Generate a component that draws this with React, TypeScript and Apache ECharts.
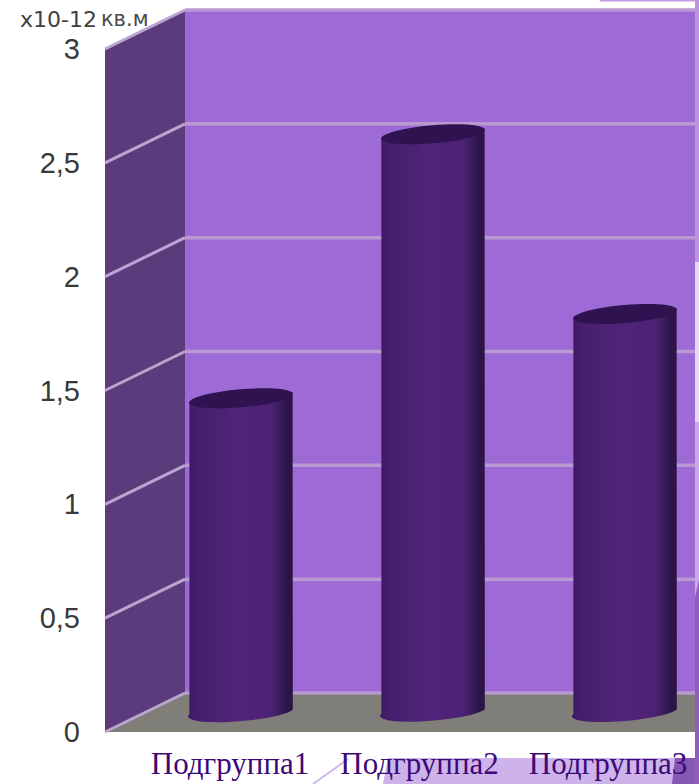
import React, { useEffect, useRef } from "react";
import * as echarts from "echarts";

const categories = ["Подгруппа1", "Подгруппа2", "Подгруппа3"];
const areaValues = [1.38, 2.54, 1.75];
const gridTicks = [0, 0.5, 1, 1.5, 2, 2.5, 3];
const unitNumber = "x10-12";
const unitName = "кв.м";

// Oblique projection of the chart box: the back wall sits this far behind the front plane.
const DEPTH_X = 80;
const DEPTH_Y = -39;
const WALL_RIGHT = 695;
const CYLINDER_RX = 52;
const CYLINDER_RY = 9;
const TILT_DEG = -5;

// Category captions are spaced slightly tighter than the columns.
const CAPTION_SHIFT = [58, 53, 46];

const COLORS = {
  wall: "#9E6AD6",
  side: "#5C3B7C",
  floor: "#7F7E79",
  grid: "#B999D2",
  sideGrid: "#BCA4D0",
  cap: "#2E1350",
  axisText: "#3A3A3A",
  categoryText: "#3C0A78",
};

const App = () => {
  const ref = useRef<HTMLDivElement>(null);

  useEffect(() => {
    document.body.style.margin = "0";
    const chart = echarts.init(ref.current!, null, { renderer: "svg" });

    const bodyFill = new echarts.graphic.LinearGradient(0, 0, 1, 0, [
      { offset: 0, color: "#3A1A5E" },
      { offset: 0.07, color: "#441F6B" },
      { offset: 0.45, color: "#50247A" },
      { offset: 0.8, color: "#4C2274" },
      { offset: 0.95, color: "#2D1548" },
      { offset: 1, color: "#2A1344" },
    ]);

    chart.setOption({
      animation: false,
      backgroundColor: "#FFFFFF",
      grid: { left: 105, right: 18, top: 49, bottom: 52 },
      xAxis: {
        type: "category",
        data: categories.map((name, i) => ({
          value: name,
          textStyle: { padding: [0, 0, 0, CAPTION_SHIFT[i]] },
        })),
        axisLine: { show: false },
        axisTick: { show: false },
        axisLabel: {
          margin: 16,
          fontFamily: "Liberation Serif",
          fontSize: 31,
          color: COLORS.categoryText,
          interval: 0,
        },
      },
      yAxis: {
        type: "value",
        min: 0,
        max: 3,
        interval: 0.5,
        axisLine: { show: false },
        axisTick: { show: false },
        splitLine: { show: false },
        axisLabel: {
          margin: 25,
          fontFamily: "Liberation Sans",
          fontSize: 29,
          color: COLORS.axisText,
          formatter: (v: number) => String(v).replace(".", ","),
        },
      },
      graphic: [
        // Slide artwork showing around the chart
        { type: "rect", z: 0, shape: { x: 600, y: 0, width: 99, height: 1.5 }, style: { fill: "#C79CE8" } },
        { type: "rect", z: 0, shape: { x: 695, y: 0, width: 4, height: 262 }, style: { fill: "#BE94E0" } },
        { type: "rect", z: 0, shape: { x: 695, y: 262, width: 4, height: 160 }, style: { fill: "#E5D6F3" } },
        { type: "rect", z: 0, shape: { x: 695, y: 422, width: 4, height: 175 }, style: { fill: "#C9A9E6" } },
        { type: "polygon", z: 0, shape: { points: [[695, 597], [699, 580], [699, 784], [695, 784]] }, style: { fill: "#8F5CBB" } },
        { type: "polygon", z: 0, shape: { points: [[383, 784], [388, 758], [695, 758], [695, 784]] }, style: { fill: "#CDB3E9" } },
        { type: "polygon", z: 0, shape: { points: [[672, 784], [675, 758], [695, 758], [695, 784]] }, style: { fill: "#8558B4" } },
        { type: "line", z: 0, shape: { x1: 313, y1: 784, x2: 348, y2: 759 }, style: { stroke: "#D0B8EA", lineWidth: 2 } },
        {
          type: "text",
          z: 10,
          x: 20,
          y: 8,
          style: {
            text: `{a|${unitNumber}}{b|${unitName}}`,
            rich: {
              a: { fontFamily: "DejaVu Sans", fontSize: 22, fill: "#3F3F3F", color: "#3F3F3F", padding: [0, 4, 0, 0] },
              b: { fontFamily: "DejaVu Sans", fontSize: 21, fill: "#4A4A4A", color: "#4A4A4A" },
            },
          },
        },
      ],
      series: [
        {
          // Back wall, side wall and floor of the box
          type: "custom",
          silent: true,
          z: 1,
          data: [[0]],
          renderItem: (_p: any, api: any) => {
            const [x0, y0] = api.coord([0, 0]);
            const left = x0 - api.size([1, 0])[0] / 2;
            const [, y3] = api.coord([0, 3]);
            const backLeft = left + DEPTH_X;
            return {
              type: "group",
              children: [
                {
                  type: "polygon",
                  shape: { points: [[backLeft, y3 + DEPTH_Y], [WALL_RIGHT, y3 + DEPTH_Y], [WALL_RIGHT, y0 + DEPTH_Y], [backLeft, y0 + DEPTH_Y]] },
                  style: { fill: COLORS.wall },
                },
                {
                  type: "polygon",
                  shape: { points: [[left, y3], [backLeft, y3 + DEPTH_Y], [backLeft, y0 + DEPTH_Y], [left, y0]] },
                  style: { fill: COLORS.side },
                },
                {
                  type: "polygon",
                  shape: { points: [[left, y0], [backLeft, y0 + DEPTH_Y], [WALL_RIGHT, y0 + DEPTH_Y], [WALL_RIGHT, y0]] },
                  style: { fill: COLORS.floor },
                },
              ],
            };
          },
        },
        {
          // Horizontal gridlines on the back wall, folded onto the side wall
          type: "custom",
          silent: true,
          z: 2,
          data: gridTicks.map((t) => [0, t]),
          encode: { y: 1 },
          renderItem: (_p: any, api: any) => {
            const [x0, y] = api.coord([0, api.value(1)]);
            const left = x0 - api.size([1, 0])[0] / 2;
            const backLeft = left + DEPTH_X;
            const yBack = y + DEPTH_Y;
            return {
              type: "group",
              children: [
                {
                  type: "line",
                  shape: { x1: backLeft, y1: yBack, x2: WALL_RIGHT, y2: yBack },
                  style: { stroke: COLORS.grid, lineWidth: 3.5 },
                },
                {
                  type: "line",
                  shape: { x1: left, y1: y, x2: backLeft, y2: yBack },
                  style: { stroke: COLORS.sideGrid, lineWidth: 3 },
                },
              ],
            };
          },
        },
        {
          // Cylinders standing halfway into the box
          type: "custom",
          silent: true,
          z: 3,
          data: areaValues.map((v, i) => [i, v]),
          encode: { x: 0, y: 1 },
          renderItem: (_p: any, api: any) => {
            const cat = api.value(0);
            const [fx, fyBase] = api.coord([cat, 0]);
            const [, fyTop] = api.coord([cat, api.value(1)]);
            const cx = fx + DEPTH_X / 2;
            const yBase = fyBase + DEPTH_Y / 2;
            const yTop = fyTop + DEPTH_Y / 2;
            const rad = (TILT_DEG * Math.PI) / 180;
            const dx = CYLINDER_RX * Math.cos(rad);
            const dy = CYLINDER_RX * Math.sin(rad);
            const d = [
              `M ${cx - dx} ${yTop - dy}`,
              `L ${cx - dx} ${yBase - dy}`,
              `A ${CYLINDER_RX} ${CYLINDER_RY} ${TILT_DEG} 0 0 ${cx + dx} ${yBase + dy}`,
              `L ${cx + dx} ${yTop + dy}`,
              "Z",
            ].join(" ");
            return {
              type: "group",
              children: [
                {
                  type: "path",
                  shape: {
                    pathData: d,
                    x: cx - dx,
                    y: yTop - CYLINDER_RY,
                    width: dx * 2,
                    height: yBase - yTop + CYLINDER_RY * 2,
                  },
                  style: { fill: bodyFill },
                },
                {
                  type: "ellipse",
                  x: cx,
                  y: yTop,
                  rotation: -rad,
                  shape: { cx: 0, cy: 0, rx: CYLINDER_RX, ry: CYLINDER_RY },
                  style: { fill: COLORS.cap },
                },
              ],
            };
          },
        },
      ],
    });

    return () => chart.dispose();
  }, []);

  return <div ref={ref} style={{ position: "absolute", left: 0, top: 0, width: 699, height: 784 }} />;
};

export default App;
